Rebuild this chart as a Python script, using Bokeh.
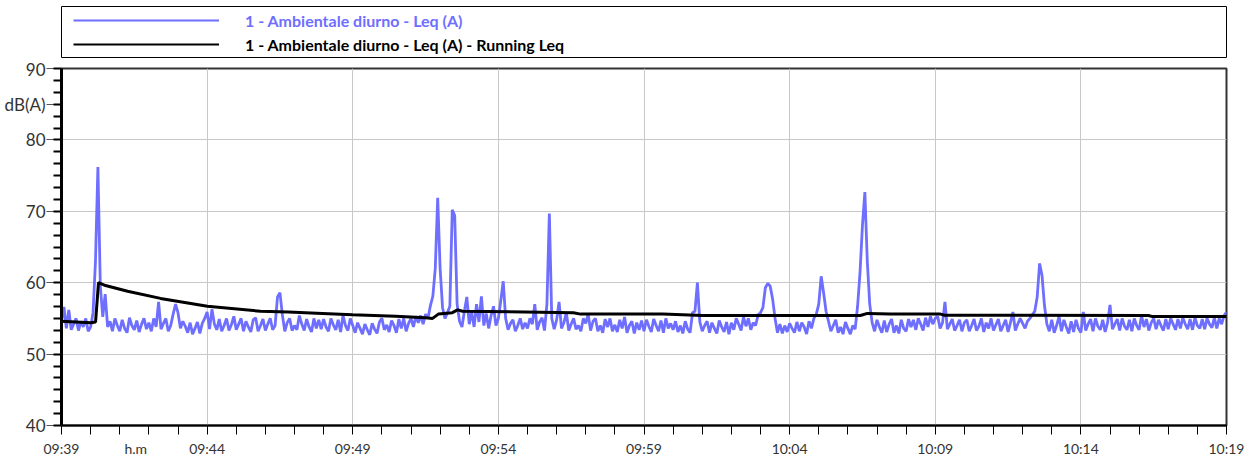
from bokeh.plotting import figure
from bokeh.models import FixedTicker, Range1d, Legend, LegendItem
from bokeh.layouts import column
from bokeh.embed import file_html
from bokeh.resources import INLINE

# Leq (A) sampled every 5 s from 09:39:00, one row per minute
leq_db = [
    54.6, 56.6, 53.6, 56.2, 53.4, 54.2, 55.0, 53.3, 54.6, 53.8, 55.0, 53.2,
    53.8, 55.8, 63.0, 76.2, 59.5, 55.2, 58.4, 53.8, 54.6, 53.2, 55.0, 54.0,
    53.2, 54.8, 53.6, 53.0, 55.1, 54.0, 53.4, 54.7, 53.1, 54.2, 55.0, 53.5,
    54.4, 53.2, 55.0, 53.8, 57.3, 53.5, 54.3, 55.0, 53.2, 54.0, 55.6, 57.0,
    55.8, 53.6, 54.6, 53.9, 53.0, 54.4, 52.8, 53.6, 54.5, 52.9, 54.3, 55.0,
    55.9, 53.5, 56.3, 54.2, 53.4, 54.9, 53.2, 54.0, 55.0, 53.3, 54.1, 55.3,
    53.4, 54.2, 55.0, 53.2, 54.6, 53.8, 53.1, 54.8, 55.1, 53.2, 54.0, 54.9,
    53.3, 54.2, 55.0, 53.4, 54.0, 58.0, 58.6, 55.5, 53.2, 54.4, 55.0, 53.3,
    54.0, 53.4, 55.4, 54.2, 53.3, 54.9, 53.8, 53.1, 55.0, 53.6, 54.8, 53.5,
    54.9, 53.8, 53.2, 55.0, 54.1, 53.4, 54.8, 53.1, 55.4, 54.0, 53.3, 55.0,
    54.0, 53.0, 54.4, 53.6, 52.8, 54.2, 53.4, 52.7, 54.3, 53.5, 52.9, 54.5,
    55.0, 53.4, 54.1, 53.1, 54.7, 54.0, 53.0, 54.9, 53.6, 55.0, 53.2, 54.3,
    55.0, 53.8, 55.3, 54.4, 55.4, 54.2, 55.6, 55.0, 56.8, 58.1, 62.0, 71.9,
    62.0, 56.5, 55.0, 55.8, 56.7, 70.2, 69.4, 57.0, 54.6, 53.8, 56.0, 58.0,
    54.2, 55.9, 53.8, 57.0, 54.5, 58.1, 54.0, 55.7, 53.6, 55.4, 56.7, 54.0,
    55.0, 57.5, 60.2, 55.0, 53.4, 54.3, 54.8, 53.2, 54.0, 55.0, 53.5, 54.4,
    53.6, 55.0, 54.2, 57.0, 53.4, 54.5, 55.1, 53.3, 57.0, 69.7, 55.0, 53.5,
    54.8, 57.3, 53.6, 54.4, 55.8, 53.3, 54.2, 55.0, 53.5, 54.0, 53.2, 55.0,
    54.3, 55.6, 53.3, 54.6, 55.0, 53.2, 54.0, 53.0, 54.9, 53.8, 55.0, 53.2,
    54.1, 53.1, 54.8, 53.6, 55.2, 53.0, 54.0, 54.6, 52.9, 54.4, 53.4, 54.7,
    53.2, 54.8, 53.9, 53.1, 54.9, 54.0, 53.2, 54.7, 53.0, 55.0, 53.6, 54.3,
    53.4, 54.6, 53.1, 54.0, 52.9, 54.6, 53.5, 53.0, 55.8, 56.0, 60.0, 54.5,
    53.2, 54.0, 54.6, 53.0, 54.4, 53.6, 52.9, 54.7, 53.8, 53.1, 54.5, 52.8,
    54.4, 53.4, 55.0, 54.2, 53.3, 55.2, 53.9, 55.0, 53.4, 54.4, 54.0, 55.5,
    55.8, 56.5, 59.3, 59.9, 59.5, 57.7, 55.0, 53.0, 54.2, 52.9, 54.0, 53.1,
    54.3, 53.6, 53.0, 54.5, 53.2, 54.4, 53.8, 52.8, 54.6, 53.6, 55.0, 55.6,
    57.0, 60.9, 58.6, 56.0, 54.6, 53.2, 54.0, 54.8, 53.0, 53.8, 52.8, 54.5,
    53.6, 52.8, 54.0, 53.5, 56.7, 61.4, 68.0, 72.7, 63.0, 57.0, 54.4, 53.2,
    54.8, 53.8, 53.0, 54.7, 53.1, 54.2, 54.9, 53.0, 54.0, 52.9, 54.8, 53.6,
    53.2, 54.9, 53.8, 54.8, 53.4, 55.0, 54.2, 53.3, 55.1, 53.8, 55.3, 54.2,
    55.0, 55.3, 53.6, 54.4, 57.3, 53.5, 54.2, 54.9, 53.3, 54.0, 54.8, 53.2,
    54.4, 54.8, 53.2, 54.0, 54.9, 53.3, 53.9, 55.0, 53.1, 54.4, 53.6, 55.0,
    53.3, 54.1, 54.9, 53.2, 54.0, 54.8, 53.1, 54.4, 55.9, 53.3, 54.2, 55.0,
    54.3, 53.6, 54.6, 55.0, 55.5, 56.0, 58.0, 62.7, 61.0, 56.8, 54.2, 53.2,
    54.8, 53.0, 54.0, 55.3, 53.2, 54.8, 53.8, 52.9, 54.6, 53.1, 54.8, 53.6,
    53.0, 55.9, 53.3, 54.2, 54.9, 53.2, 55.0, 53.9, 53.4, 54.8, 53.1, 54.4,
    56.9, 53.5, 54.2, 54.9, 53.3, 55.0, 53.9, 53.4, 54.8, 53.2, 55.0, 54.0,
    53.4, 55.4, 53.8, 54.9, 53.3, 54.4, 55.0, 53.5, 54.8, 54.0, 53.3, 54.9,
    53.5, 55.0, 54.2, 53.4, 54.9, 53.6, 55.1, 54.2, 53.5, 54.9, 53.4, 55.1,
    54.0, 53.6, 54.9, 53.5, 55.0, 54.2, 53.7, 55.1, 53.6, 55.0, 54.2, 55.4,
    55.9,
]
step_s = 5

# Running Leq: minutes after 09:39 and level
run_min = [0.00, 1.00, 1.17, 1.27, 1.51, 2.27, 3.40, 5.01, 6.83, 7.79, 8.96,
           9.99, 11.47, 12.50, 12.74, 12.94, 13.42, 13.60, 13.77, 17.58, 17.82,
           20.64, 22.01, 27.43, 27.67, 28.46, 30.18, 30.32, 37.32, 37.46, 40.00]
run_db = [54.6, 54.4, 54.5, 60.0, 59.6, 58.8, 57.8, 56.7, 56.0, 55.9, 55.7,
          55.5, 55.3, 55.1, 55.0, 55.6, 55.8, 56.2, 56.0, 55.8, 55.6,
          55.6, 55.4, 55.4, 55.7, 55.6, 55.6, 55.45, 55.4, 55.25, 55.25]

# x axis: minutes after 09:39, with the unit tag placed between ticks
x_ticks = [0, 2.55, 5, 10, 15, 20, 25, 30, 35, 40]
x_labels = ["09:39", "h.m", "09:44", "09:49", "09:54", "09:59",
            "10:04", "10:09", "10:14", "10:19"]
grid_x = [0, 5, 10, 15, 20, 25, 30, 35, 40]

# y axis: levels, with the unit tag beside the 85 dB tick
y_ticks = [40, 50, 60, 70, 80, 85, 90]
y_labels = ["40", "50", "60", "70", "80", "dB(A)", "90"]
grid_y = [40, 50, 60, 70, 80, 90]

series_names = ["1 - Ambientale diurno - Leq (A)",
                "1 - Ambientale diurno - Leq (A) - Running Leq"]
BLUE = "#6e6eff"
FONT = "Lato"
NAN = float("nan")

t_min = [i * step_s / 60.0 for i in range(len(leq_db))]

# ---- legend strip -------------------------------------------------------
leg = figure(width=1256, height=58, output_backend="svg", toolbar_location=None,
             x_range=Range1d(0, 1), y_range=Range1d(0, 1),
             min_border_left=61, min_border_right=30,
             min_border_top=6, min_border_bottom=1)
leg.axis.visible = False
leg.grid.visible = False
leg.outline_line_color = "black"
leg.outline_line_width = 1

r_leg_blue = leg.line(x=[NAN], y=[NAN], line_color=BLUE, line_width=2)
r_leg_black = leg.line(x=[NAN], y=[NAN], line_color="black", line_width=2)

for rend, name, colr, ypos in [(r_leg_blue, series_names[0], BLUE, 27),
                               (r_leg_black, series_names[1], "black", 3)]:
    lg = Legend(items=[LegendItem(label=name, renderers=[rend])],
                location=(12, ypos), orientation="vertical",
                padding=0, margin=0, spacing=0,
                glyph_width=146, glyph_height=20, label_height=20,
                label_standoff=26, border_line_alpha=0,
                background_fill_alpha=0,
                label_text_font=FONT, label_text_font_style="bold",
                label_text_font_size="16px", label_text_color=colr)
    leg.add_layout(lg, "center")

# ---- main chart ---------------------------------------------------------
p = figure(width=1256, height=401, output_backend="svg", toolbar_location=None,
           x_range=Range1d(0, 40), y_range=Range1d(40, 90),
           min_border_left=61, min_border_right=30,
           min_border_top=10, min_border_bottom=32)
p.background_fill_color = "white"
p.outline_line_color = "#333333"
p.outline_line_width = 2

p.line(t_min, leq_db, line_color=BLUE, line_width=2.8)
p.line(run_min, run_db, line_color="black", line_width=3)

xa = p.xaxis[0]
xa.ticker = FixedTicker(ticks=x_ticks, minor_ticks=list(range(0, 41)))
xa.major_label_overrides = {t: lab for t, lab in zip(x_ticks, x_labels)}
xa.major_tick_in = 0
xa.major_tick_out = 10
xa.major_tick_line_color = None
xa.minor_tick_in = 0
xa.minor_tick_out = 9
xa.minor_tick_line_color = "black"
xa.minor_tick_line_width = 1
xa.axis_line_color = "black"
xa.axis_line_width = 2
xa.major_label_standoff = 4
xa.major_label_text_font = FONT
xa.major_label_text_font_size = "14px"
xa.major_label_text_color = "#333333"

ya = p.yaxis[0]
ya.ticker = FixedTicker(ticks=y_ticks,
                        minor_ticks=[40 + i * 10 / 6 for i in range(31)])
ya.major_label_overrides = {t: lab for t, lab in zip(y_ticks, y_labels)}
ya.major_tick_in = 0
ya.major_tick_out = 15
ya.minor_tick_in = 0
ya.minor_tick_out = 8
ya.major_tick_line_color = "#555555"
ya.major_tick_line_width = 1
ya.minor_tick_line_color = "black"
ya.minor_tick_line_width = 2
ya.axis_line_color = "black"
ya.axis_line_width = 3
ya.major_label_standoff = 1
ya.major_label_text_font = FONT
ya.major_label_text_font_size = "17px"
ya.major_label_text_color = "#333333"

p.xgrid.ticker = FixedTicker(ticks=grid_x)
p.ygrid.ticker = FixedTicker(ticks=grid_y)
p.grid.grid_line_color = "#c8c8c8"
p.grid.grid_line_width = 1

page = column(leg, p, spacing=0)
open("out.html", "w").write(file_html(page, INLINE))
